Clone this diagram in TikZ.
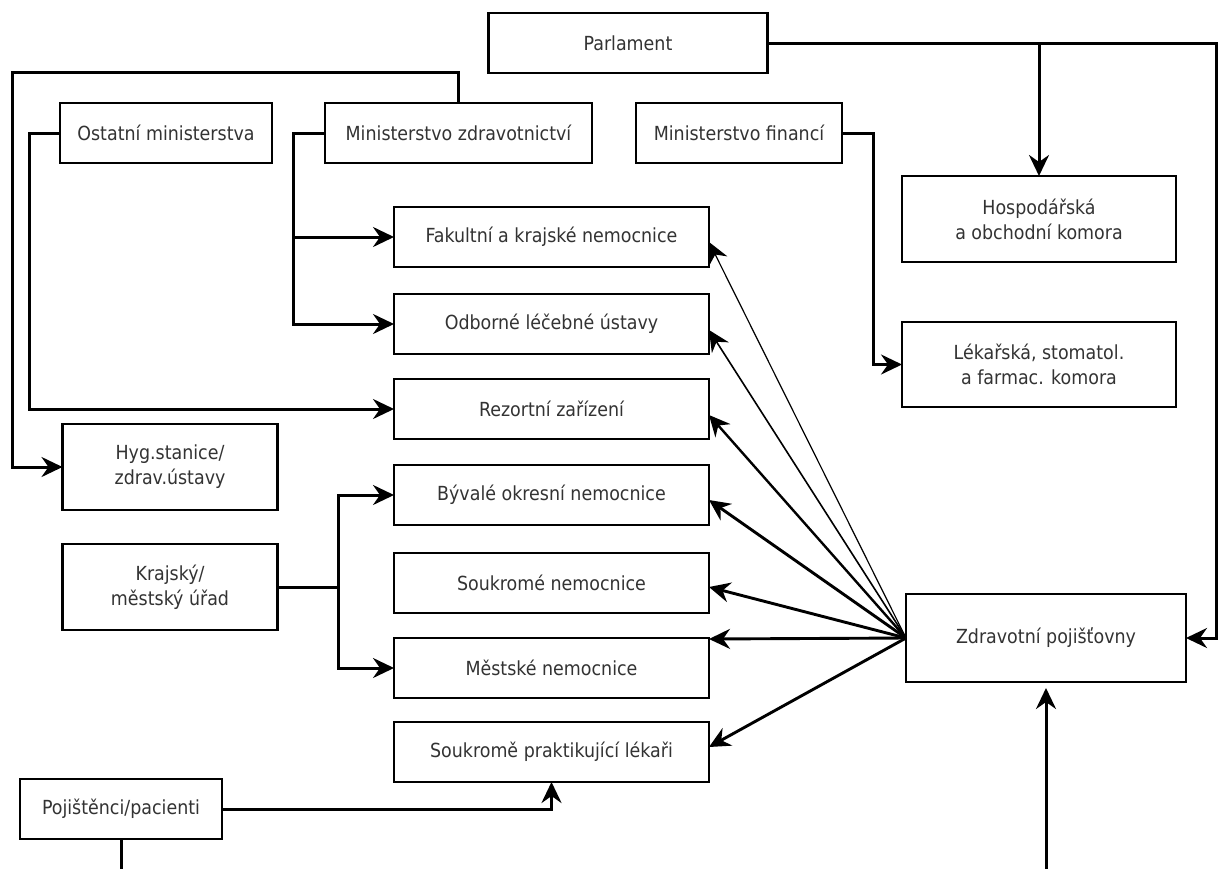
\documentclass[tikz,border=0pt]{standalone}
\usepackage{fontspec}
\setmainfont{DejaVu Sans Condensed}
\usetikzlibrary{arrows.meta,calc}
\begin{document}
\begin{tikzpicture}[x=1pt,y=-1pt,
  box/.style={draw, line width=2.9pt, inner sep=0pt, outer sep=0pt, align=center,
    text=black!80, font=\fontsize{19.4}{25}\selectfont},
  hbox/.style={box, minimum width=315pt, minimum height=60pt},
  conn/.style={line width=3pt, line join=miter},
  tip/.style={-{Stealth[length=21pt,width=20pt,inset=7pt]}},
  arr/.style={conn, tip},
  fan/.style={tip}
]
\fill[white] (0,0) rectangle (1226,868);
\useasboundingbox (0,0) rectangle (1226,868);

% top row
\node[box, minimum width=279pt, minimum height=60pt] (parl) at (628,43) {Parlament};
\node[box, minimum width=212pt, minimum height=60pt] (ost) at (166,133) {Ostatní ministerstva};
\node[box, minimum width=267pt, minimum height=60pt] (mz) at (458.5,133) {Ministerstvo zdravotnictví};
\node[box, minimum width=206pt, minimum height=60pt] (mf) at (739,133) {Ministerstvo financí};
\node[box, minimum width=274pt, minimum height=86pt] (hosp) at (1039,219) {Hospodářská\\a obchodní komora};
\node[box, minimum width=274pt, minimum height=85pt] (lek) at (1039,364.5) {Lékařská, stomatol.\\a farmac. komora};

% hospitals column
\node[hbox] (fak) at (551.5,237) {Fakultní a krajské nemocnice};
\node[hbox] (odb) at (551.5,324) {Odborné léčebné ústavy};
\node[hbox] (rez) at (551.5,409) {Rezortní zařízení};
\node[hbox] (byv) at (551.5,495) {Bývalé okresní nemocnice};
\node[hbox] (souk) at (551.5,583) {Soukromé nemocnice};
\node[hbox] (mest) at (551.5,668) {Městské nemocnice};
\node[hbox] (prakt) at (551.5,752) {Soukromě praktikující lékaři};

% left column
\node[box, minimum width=215pt, minimum height=86pt] (hyg) at (170,467) {Hyg.stanice/\\zdrav.ústavy};
\node[box, minimum width=215pt, minimum height=86pt] (kraj) at (170,587) {Krajský/\\městský úřad};
\node[box, minimum width=202pt, minimum height=60pt] (poj) at (121,809) {Pojištěnci/pacienti};

% insurers
\node[box, minimum width=280pt, minimum height=88pt] (zdr) at (1046,638) {Zdravotní pojišťovny};

% ministry connectors
\draw[arr] (mz.north) |- (12,72) |- (hyg.west);
\draw[arr] (ost.west) -- ++(-31,0) |- (rez.west);
\draw[arr] (mz.west) -- ++(-32,0) coordinate (mzb) |- (odb.west);
\draw[arr] (mzb) |- (fak.west);
\draw[arr] (mf.east) -- ++(31,0) |- (lek.west);

% parliament
\coordinate (pr) at (1216,43);
\draw[arr] (parl.east) -- (pr) |- (zdr.east);
\draw[arr] (parl.east -| hosp.north) -- (hosp.north);

% regional office
\draw[arr] (kraj.east) -- ++(61,0) coordinate (kb) |- (byv.west);
\draw[arr] (kb) |- (mest.west);

% patients
\draw[arr] (poj.east) -| (prakt.south);
\begin{scope}
\clip (0,0) rectangle (1226,868);
\draw[arr] (poj.south) -- ++(0,40) -| ([yshift=-6pt]zdr.south);
\end{scope}

% fan from insurers
\draw[fan, line width=1.2pt] (zdr.west) -- ([yshift=-5pt]fak.east);
\draw[fan, line width=1.6pt] (zdr.west) -- ([yshift=-6pt]odb.east);
\draw[fan, line width=2.4pt] (zdr.west) -- ([yshift=-6pt]rez.east);
\draw[fan, line width=2.9pt] (zdr.west) -- ([yshift=-5pt]byv.east);
\draw[fan, line width=2.9pt] (zdr.west) -- ([yshift=-4pt]souk.east);
\draw[fan, line width=2.9pt] (zdr.west) -- ([yshift=-1pt]mest.north east);
\draw[fan, line width=2.9pt] (zdr.west) -- ([yshift=5pt]prakt.east);
\end{tikzpicture}
\end{document}
